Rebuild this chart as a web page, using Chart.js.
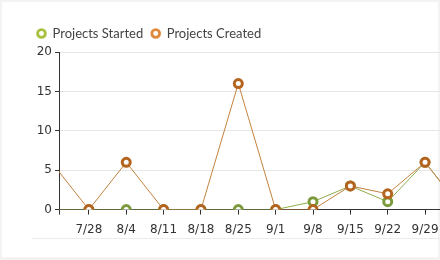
<!DOCTYPE html>
<html>
<head>
<meta charset="utf-8">
<script src="https://cdn.jsdelivr.net/npm/chart.js@4"></script>
<style>
  body { margin: 0; background: #f3f3f3; width: 440px; height: 260px; overflow: hidden; }
  #card { position: absolute; left: 2px; top: 2px; width: 436px; height: 255px; background: #fff; }
  #rule { position: absolute; left: 32px; top: 238px; width: 408px; height: 1px; background: #ececec; }
  #wrap { position: absolute; left: 0; top: 0; width: 440px; height: 250px; }
</style>
</head>
<body>
<div id="card"></div>
<div id="rule"></div>
<div id="wrap"><canvas id="chart"></canvas></div>
<script>
// weeks (index = x position on the axis)
const weeks = ['7/21', '7/28', '8/4', '8/11', '8/18', '8/25', '9/1', '9/8', '9/15', '9/22', '9/29', '10/6'];
const projectsStarted = [0, 0, 0, 0, 0, 0, 0, 1, 3, 1, 6, 0];
const projectsCreated = [6, 0, 6, 0, 0, 16, 0, 0, 3, 2, 6, 0];
const yTicks = [0, 5, 10, 15, 20];

// visible window of the x axis (in week index units)
const xMin = 0.2;
const xMax = 10.4;

function toPoints(values) {
    return values.map((v, i) => ({ x: i, y: v }));
}

// legend box height tweak
const legendFit = {
    id: 'legendFit',
    beforeInit(chart) {
        const fit = chart.legend.fit;
        chart.legend.fit = function () {
            fit.call(this);
            this.height += 2;
        };
    }
};

const clipToArea = { left: 0, top: 0, right: 0, bottom: 0 };

const ctx = document.getElementById('chart').getContext('2d');

new Chart(ctx, {
    type: 'line',
    data: {
        datasets: [
            {
                label: 'Projects Started',
                data: toPoints(projectsStarted),
                borderColor: '#8fad4c',
                borderWidth: 1,
                pointRadius: 4,
                pointBorderWidth: 3,
                pointBorderColor: '#7b9a3b',
                pointBackgroundColor: '#fff',
                legendColor: '#a6c13d',
                tension: 0,
                clip: clipToArea,
                order: 1
            },
            {
                label: 'Projects Created',
                data: toPoints(projectsCreated),
                borderColor: '#c4823f',
                borderWidth: 1,
                pointRadius: 4,
                pointBorderWidth: 3,
                pointBorderColor: '#b4641e',
                pointBackgroundColor: '#fff',
                legendColor: '#e0893a',
                tension: 0,
                clip: clipToArea,
                order: 0
            }
        ]
    },
    options: {
        responsive: true,
        maintainAspectRatio: false,
        animation: false,
        layout: { autoPadding: false, padding: { left: 29, top: 19, right: 0, bottom: 5 } },
        plugins: {
            tooltip: { enabled: false },
            legend: {
                position: 'top',
                align: 'start',
                labels: {
                    usePointStyle: true,
                    pointStyle: 'circle',
                    boxWidth: 9,
                    boxHeight: 5.5,
                    padding: 8,
                    color: '#444',
                    font: { family: 'Lato', size: 13 },
                    sort: (a, b) => a.datasetIndex - b.datasetIndex,
                    generateLabels(chart) {
                        const items = Chart.defaults.plugins.legend.labels.generateLabels(chart);
                        items.forEach(it => {
                            const ds = chart.data.datasets[it.datasetIndex];
                            it.strokeStyle = ds.legendColor;
                            it.fillStyle = '#fff';
                            it.lineWidth = 2.8;
                        });
                        return items;
                    }
                }
            }
        },
        scales: {
            x: {
                type: 'linear',
                min: xMin,
                max: xMax,
                afterBuildTicks(scale) {
                    const t = [{ value: xMin }];
                    weeks.forEach((w, i) => { if (i >= xMin && i <= xMax) t.push({ value: i }); });
                    t.push({ value: xMax });
                    scale.ticks = t;
                },
                afterFit(scale) {
                    // let the plot run to the right edge, the chart is cut off there
                    scale.paddingRight = 0;
                },
                ticks: {
                    autoSkip: false,
                    maxRotation: 0,
                    padding: 8,
                    color: '#333',
                    font: { family: 'DejaVu Sans', size: 12 },
                    callback: v => Number.isInteger(v) ? weeks[v] : ''
                },
                grid: { drawOnChartArea: false, tickColor: '#333', tickLength: 5 },
                border: { color: '#333' }
            },
            y: {
                min: 0,
                max: 20,
                afterBuildTicks(scale) {
                    scale.ticks = yTicks.map(v => ({ value: v }));
                },
                afterFit(scale) {
                    scale.width = 30;
                },
                ticks: {
                    padding: 3,
                    color: '#333',
                    font: { family: 'DejaVu Sans', size: 12 }
                },
                grid: { color: '#e6e6e6', tickColor: '#333', tickLength: 4 },
                border: { color: '#333' }
            }
        }
    },
    plugins: [legendFit]
});
</script>
</body>
</html>
